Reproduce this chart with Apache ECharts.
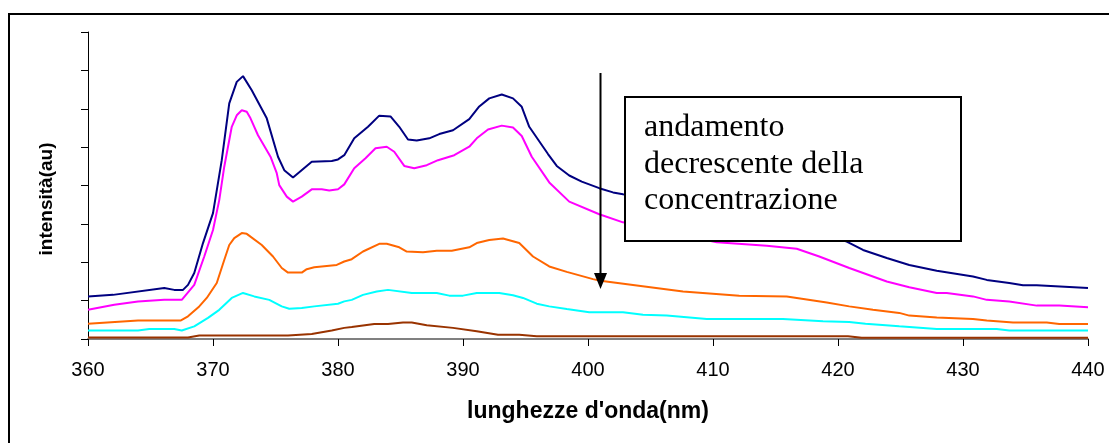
<!DOCTYPE html>
<html>
<head>
<meta charset="utf-8">
<script src="https://cdn.jsdelivr.net/npm/echarts@6/dist/echarts.min.js"></script>
<style>
  html, body { margin: 0; padding: 0; background: #fff; }
  #chart { width: 1109px; height: 443px; }
</style>
</head>
<body>
<div id="chart"></div>
<script>
// Emission spectra, wavelength (nm) vs intensity (a.u.), five concentrations
const xTicks = [360, 370, 380, 390, 400, 410, 420, 430, 440];

const conc1 = [[360,1.11],[362,1.15],[366.1,1.33],[366.9,1.28],[367.6,1.28],[368,1.41],[368.5,1.72],[369.2,2.5],[370,3.28],[370.7,4.66],[371.3,6.14],[371.9,6.7],[372.4,6.85],[373.1,6.48],[374.3,5.75],[375.2,4.75],[375.7,4.4],[376.4,4.21],[377.9,4.62],[379.5,4.64],[380,4.68],[380.5,4.79],[381.3,5.23],[382.4,5.53],[383.3,5.82],[384.2,5.8],[384.9,5.53],[385.6,5.2],[386.3,5.17],[387.3,5.23],[388.1,5.34],[389.2,5.44],[390.5,5.73],[391.3,6.06],[392.1,6.27],[393.1,6.37],[394,6.27],[394.7,6.05],[395.3,5.53],[396.4,5.01],[396.8,4.82],[397.5,4.51],[398.5,4.26],[399.5,4.1],[400.9,3.93],[402,3.82],[402.8,3.77],[405,3.65],[408,3.49],[411,3.29],[414,3.1],[417,2.9],[419,2.71],[420.7,2.54],[422,2.32],[423.9,2.11],[425.7,1.93],[427.9,1.78],[430.8,1.63],[431.9,1.54],[433.7,1.46],[434.8,1.4],[435.9,1.4],[440,1.33]];

const conc2 = [[360,0.76],[362.1,0.89],[364,0.98],[366.1,1.02],[367.5,1.02],[368.5,1.41],[369.3,2.15],[370,2.84],[370.5,3.62],[370.9,4.49],[371.5,5.53],[371.9,5.83],[372.3,5.96],[372.7,5.92],[373,5.75],[373.6,5.31],[374.6,4.75],[375.1,4.32],[375.3,4.01],[375.9,3.71],[376.4,3.58],[377.1,3.71],[377.9,3.9],[378.7,3.9],[379.3,3.87],[380,3.9],[380.5,4.03],[381.3,4.45],[382.2,4.71],[383,4.97],[383.9,5.01],[384.5,4.88],[385.3,4.51],[386.1,4.45],[387.1,4.53],[388,4.66],[389.3,4.79],[390.5,5.01],[391.1,5.23],[392,5.46],[393.1,5.56],[394,5.51],[394.7,5.29],[395.5,4.75],[396.9,4.08],[398.5,3.58],[400.9,3.25],[402.8,3.04],[405,2.9],[407.5,2.71],[410.3,2.52],[414.3,2.43],[416.7,2.35],[418.5,2.15],[420.9,1.85],[423.9,1.5],[425.7,1.35],[427.9,1.2],[428.7,1.2],[430.8,1.11],[431.9,1.02],[433.7,0.98],[435.9,0.87],[437.7,0.87],[440,0.83]];

const conc3 = [[360,0.4],[364,0.48],[367.4,0.48],[368,0.59],[368.9,0.85],[369.5,1.07],[370.3,1.46],[370.9,2.06],[371.3,2.45],[371.7,2.63],[372.3,2.76],[372.7,2.74],[373.9,2.45],[374.8,2.15],[375.5,1.85],[376,1.73],[377.1,1.73],[377.5,1.82],[378.1,1.87],[379.9,1.93],[380.5,2.02],[381.1,2.08],[382,2.28],[383.3,2.48],[383.9,2.48],[384.9,2.39],[385.5,2.28],[386.8,2.26],[387.9,2.3],[389.1,2.3],[390.5,2.39],[391.1,2.5],[392.1,2.58],[393.2,2.62],[394.5,2.5],[395.6,2.15],[396.9,1.89],[398.3,1.75],[400.4,1.56],[401,1.52],[403.6,1.41],[407.6,1.24],[412.1,1.13],[415.9,1.11],[419.1,0.95],[420.9,0.85],[422.8,0.76],[424.9,0.68],[425.7,0.61],[427.9,0.56],[430.8,0.52],[431.9,0.48],[434,0.43],[436.7,0.43],[437.7,0.39],[440,0.39]];

const conc4 = [[360,0.22],[364,0.22],[364.9,0.26],[366.9,0.26],[367.5,0.22],[368.5,0.33],[369.6,0.55],[370.5,0.76],[371.5,1.07],[372.4,1.2],[373.3,1.11],[374.5,1.02],[375.5,0.85],[376.1,0.79],[377.1,0.81],[378.1,0.85],[380,0.92],[380.5,0.98],[381.1,1.02],[382,1.15],[383.1,1.24],[384,1.28],[385.9,1.2],[387.9,1.2],[388.9,1.13],[390,1.13],[391.1,1.2],[392.9,1.2],[394,1.14],[394.8,1.07],[395.9,0.92],[396.9,0.85],[398.3,0.78],[400.1,0.7],[402.8,0.7],[404.4,0.63],[406.3,0.61],[409.5,0.52],[415.6,0.52],[418.8,0.46],[420.9,0.44],[422.2,0.4],[424.9,0.33],[427.9,0.26],[432.7,0.26],[433.7,0.22],[440,0.22]];

const conc5 = [[360,0.04],[368,0.04],[368.9,0.09],[376,0.09],[377.9,0.13],[379.5,0.22],[380.5,0.29],[381.1,0.31],[382.9,0.39],[384,0.39],[385.2,0.43],[385.9,0.43],[387.1,0.36],[389.2,0.29],[391.1,0.2],[392.8,0.11],[394.5,0.11],[395.9,0.07],[420.8,0.07],[421.9,0.03],[440,0.03]];

const seriesColors = ['#000080', '#FF00FF', '#FF6600', '#00FFFF', '#993300'];
const seriesData = [conc1, conc2, conc3, conc4, conc5];

const noteLines = ['andamento', 'decrescente della', 'concentrazione'];
const noteFont = "32px 'Liberation Serif'";

const chart = echarts.init(document.getElementById('chart'), null, { renderer: 'canvas' });

const option = {
  backgroundColor: '#ffffff',
  animation: false,
  grid: { left: 88, right: 21, top: 32, bottom: 104 },
  xAxis: {
    type: 'value',
    min: xTicks[0],
    max: xTicks[xTicks.length - 1],
    interval: 10,
    name: "lunghezze d'onda(nm)",
    nameLocation: 'middle',
    nameGap: 61,
    nameTextStyle: { fontFamily: 'Liberation Sans', fontWeight: 'bold', fontSize: 23, color: '#000' },
    axisLine: { lineStyle: { color: '#808080', width: 2 } },
    axisTick: { length: 7, lineStyle: { color: '#000', width: 1 } },
    axisLabel: { fontFamily: 'Liberation Sans', fontSize: 20, color: '#000', margin: 21 },
    splitLine: { show: false }
  },
  yAxis: {
    type: 'value',
    min: 0,
    max: 8,
    interval: 1,
    axisLine: { show: true, lineStyle: { color: '#000', width: 1 } },
    axisTick: { show: true, length: 7, lineStyle: { color: '#000', width: 1 } },
    axisLabel: { show: false },
    splitLine: { show: false }
  },
  series: seriesData.map((d, i) => ({
    type: 'line',
    data: d,
    symbol: 'none',
    smooth: false,
    lineStyle: { color: seriesColors[i], width: 2 },
    itemStyle: { color: seriesColors[i] },
    z: 2 + (seriesData.length - i)
  })),
  graphic: [
    // outer chart frame
    { type: 'rect', z: 50, silent: true,
      shape: { x: 9, y: 14, width: 1200, height: 500 },
      style: { fill: 'none', stroke: '#000', lineWidth: 2 } },
    // vertical axis title
    { type: 'text', z: 50, silent: true, x: 47, y: 199, rotation: Math.PI / 2,
      style: { text: 'intensità(au)', font: "bold 19px 'Liberation Sans'", fill: '#000', align: 'center', verticalAlign: 'middle' } },
    // downward arrow
    { type: 'line', z: 60, silent: true,
      shape: { x1: 600.5, y1: 73, x2: 600.5, y2: 275 },
      style: { stroke: '#000', lineWidth: 2 } },
    { type: 'polygon', z: 60, silent: true,
      shape: { points: [[594, 273], [607, 273], [600.5, 289]] },
      style: { fill: '#000' } },
    // annotation box
    { type: 'rect', z: 60, silent: true,
      shape: { x: 625, y: 97, width: 336, height: 144 },
      style: { fill: '#fff', stroke: '#000', lineWidth: 2 } }
  ].concat(noteLines.map((t, i) => ({
    type: 'text', z: 61, silent: true, x: 644, y: 128 + i * 36.5,
    style: { text: t, font: noteFont, fill: '#000', verticalAlign: 'middle', align: 'left' }
  })))
};

chart.setOption(option);
</script>
</body>
</html>
